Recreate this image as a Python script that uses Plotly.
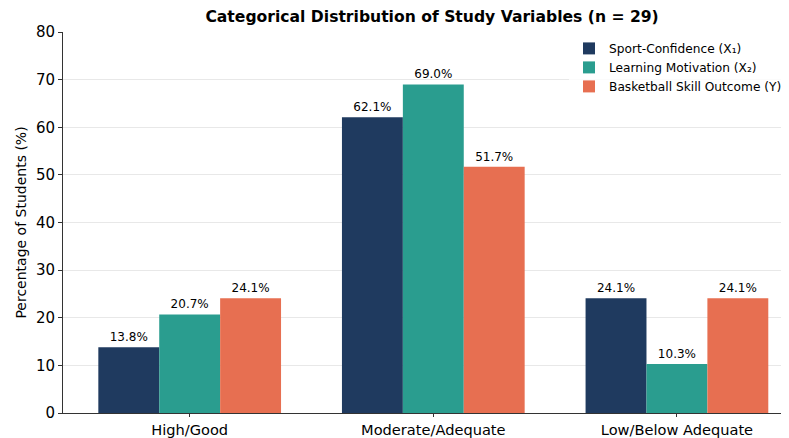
import plotly.graph_objects as go

categories = ["High/Good", "Moderate/Adequate", "Low/Below Adequate"]
series_names = ["Sport-Confidence (X₁)", "Learning Motivation (X₂)", "Basketball Skill Outcome (Y)"]
sport_confidence = [13.8, 62.1, 24.1]
learning_motivation = [20.7, 69.0, 10.3]
skill_outcome = [24.1, 51.7, 24.1]
colors = ["#1f3a5f", "#2a9d8f", "#e76f51"]
y_ticks = [0, 10, 20, 30, 40, 50, 60, 70, 80]

fig = go.Figure()
for name, vals, col in zip(series_names, [sport_confidence, learning_motivation, skill_outcome], colors):
    fig.add_trace(go.Bar(
        x=list(range(len(categories))), y=vals, name=name,
        marker=dict(color=col, line=dict(width=0)),
        text=[f"{v:.1f}%" for v in vals], textposition="outside",
        textfont=dict(size=12, color="black", family="DejaVu Sans"),
        cliponaxis=False,
    ))

# page body has an 8px margin, so figure is shrunk to fit the 789x438 window
fig.update_layout(
    width=781, height=430,
    margin=dict(l=55, r=0, t=24, b=25, pad=0),
    paper_bgcolor="white", plot_bgcolor="white",
    barmode="group", bargap=0.25, bargroupgap=0,
    font=dict(family="DejaVu Sans", color="black"),
    title=dict(text="<b>Categorical Distribution of Study Variables (n = 29)</b>",
               x=0.543, xanchor="center", y=0.979, yanchor="middle",
               font=dict(size=15.6, family="DejaVu Sans")),
    legend=dict(x=0.697, y=0.995, xanchor="left", yanchor="top",
                font=dict(size=12.2), bgcolor="rgba(255,255,255,0.8)",
                tracegroupgap=0),
    xaxis=dict(tickmode="array", tickvals=list(range(len(categories))), ticktext=categories,
               range=[-0.52, 2.46], showline=True, linecolor="#333", linewidth=1,
               ticks="outside", ticklen=3, tickcolor="#333", tickfont=dict(size=14.6),
               showgrid=False, zeroline=False, automargin=False),
    yaxis=dict(range=[0, 80], tickvals=y_ticks, showline=True, linecolor="#333", linewidth=1,
               ticks="outside", ticklen=4, tickcolor="#333", tickfont=dict(size=15),
               showgrid=True, gridcolor="rgba(180,180,180,0.3)", gridwidth=1, zeroline=False,
               layer="above traces", automargin=False,
               title=dict(text="Percentage of Students (%)", font=dict(size=14), standoff=6)),
)

fig.write_html("out.html")
